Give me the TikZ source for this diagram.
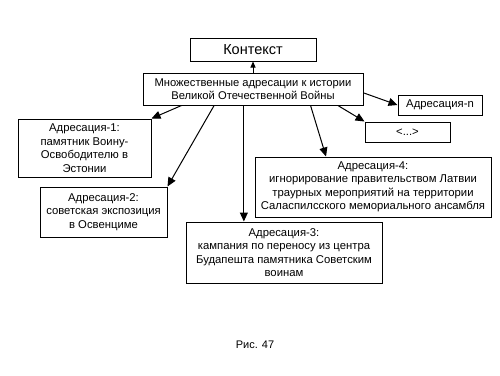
\documentclass[tikz,border=0pt]{standalone}
\usepackage{fontspec}
\setmainfont{Liberation Sans}
\usetikzlibrary{arrows.meta, shadows}
\tikzset{
  ctxnode/.style={rectangle, draw, fill=white, line width=1pt, font=\fontsize{14.5}{16}\selectfont, inner sep=1pt, drop shadow={shadow xshift=1pt, shadow yshift=-1pt, fill=black, opacity=1}},
  mainnode/.style={rectangle, draw, fill=white, line width=1pt, font=\fontsize{11.2}{13}\selectfont, align=center, inner sep=1pt, drop shadow={shadow xshift=1pt, shadow yshift=-1pt, fill=black, opacity=1}},
  adrnode/.style={rectangle, draw, fill=white, line width=1pt, font=\fontsize{11.3}{13.5}\selectfont, align=center, inner sep=1pt, drop shadow={shadow xshift=1pt, shadow yshift=-1pt, fill=black, opacity=1}},
  conn/.style={-{Triangle[length=9pt, width=8pt]}, line width=1pt},
}

\begin{document}
\begin{tikzpicture}[x=1pt, y=-1pt]
  \useasboundingbox[fill=white] (0,0) rectangle (500,375);
  \node[ctxnode, minimum width=126pt, minimum height=23pt] (ctx) at (253, 49.5) {Контекст};
  \node[mainnode, minimum width=220pt, minimum height=32pt] (main) at (253, 89) {Множественные адресации к истории\\Великой Отечественной Войны};
  \node[adrnode, minimum width=133pt, minimum height=58pt] (a1) at (84.5, 148) {Адресация-1:\\памятник Воину-\\Освободителю в\\Эстонии};
  \node[adrnode, minimum width=127pt, minimum height=50pt] (a2) at (103.5, 212) {Адресация-2:\\советская экспозиция\\в Освенциме};
  \node[adrnode, minimum width=196pt, minimum height=61pt] (a3) at (284, 252.5) {Адресация-3:\\кампания по переносу из центра\\Будапешта памятника Советским\\воинам};
  \node[adrnode, minimum width=236pt, minimum height=60pt] (a4) at (373, 187) {Адресация-4:\\игнорирование правительством Латвии\\траурных мероприятий на территории\\Саласпилсского мемориального ансамбля};
  \node[adrnode, minimum width=84pt, minimum height=20pt] (an) at (440, 105) {Адресация-n};
  \node[adrnode, minimum width=85pt, minimum height=20pt] (dots) at (407.5, 132) {<...>};
  \node[font=\fontsize{11}{12}\selectfont] (cap) at (255, 345) {Рис. 47};
  % связи
  \draw[-{Triangle[length=6pt, width=5pt]}, line width=1pt] (main.north) -- (ctx.south);
  \draw[conn] (main.193) -- (a1.north east);
  \draw[conn] (main.203) -- (a2.north east);
  \draw[conn] (main.241) -- (main.241 |- a3.north);
  \draw[conn] (main.344) -- (a4.147);
  \draw[conn] (main.349) -- (dots.north west);
  \draw[conn] (main.358) -- (an.west);
\end{tikzpicture}
\end{document}
